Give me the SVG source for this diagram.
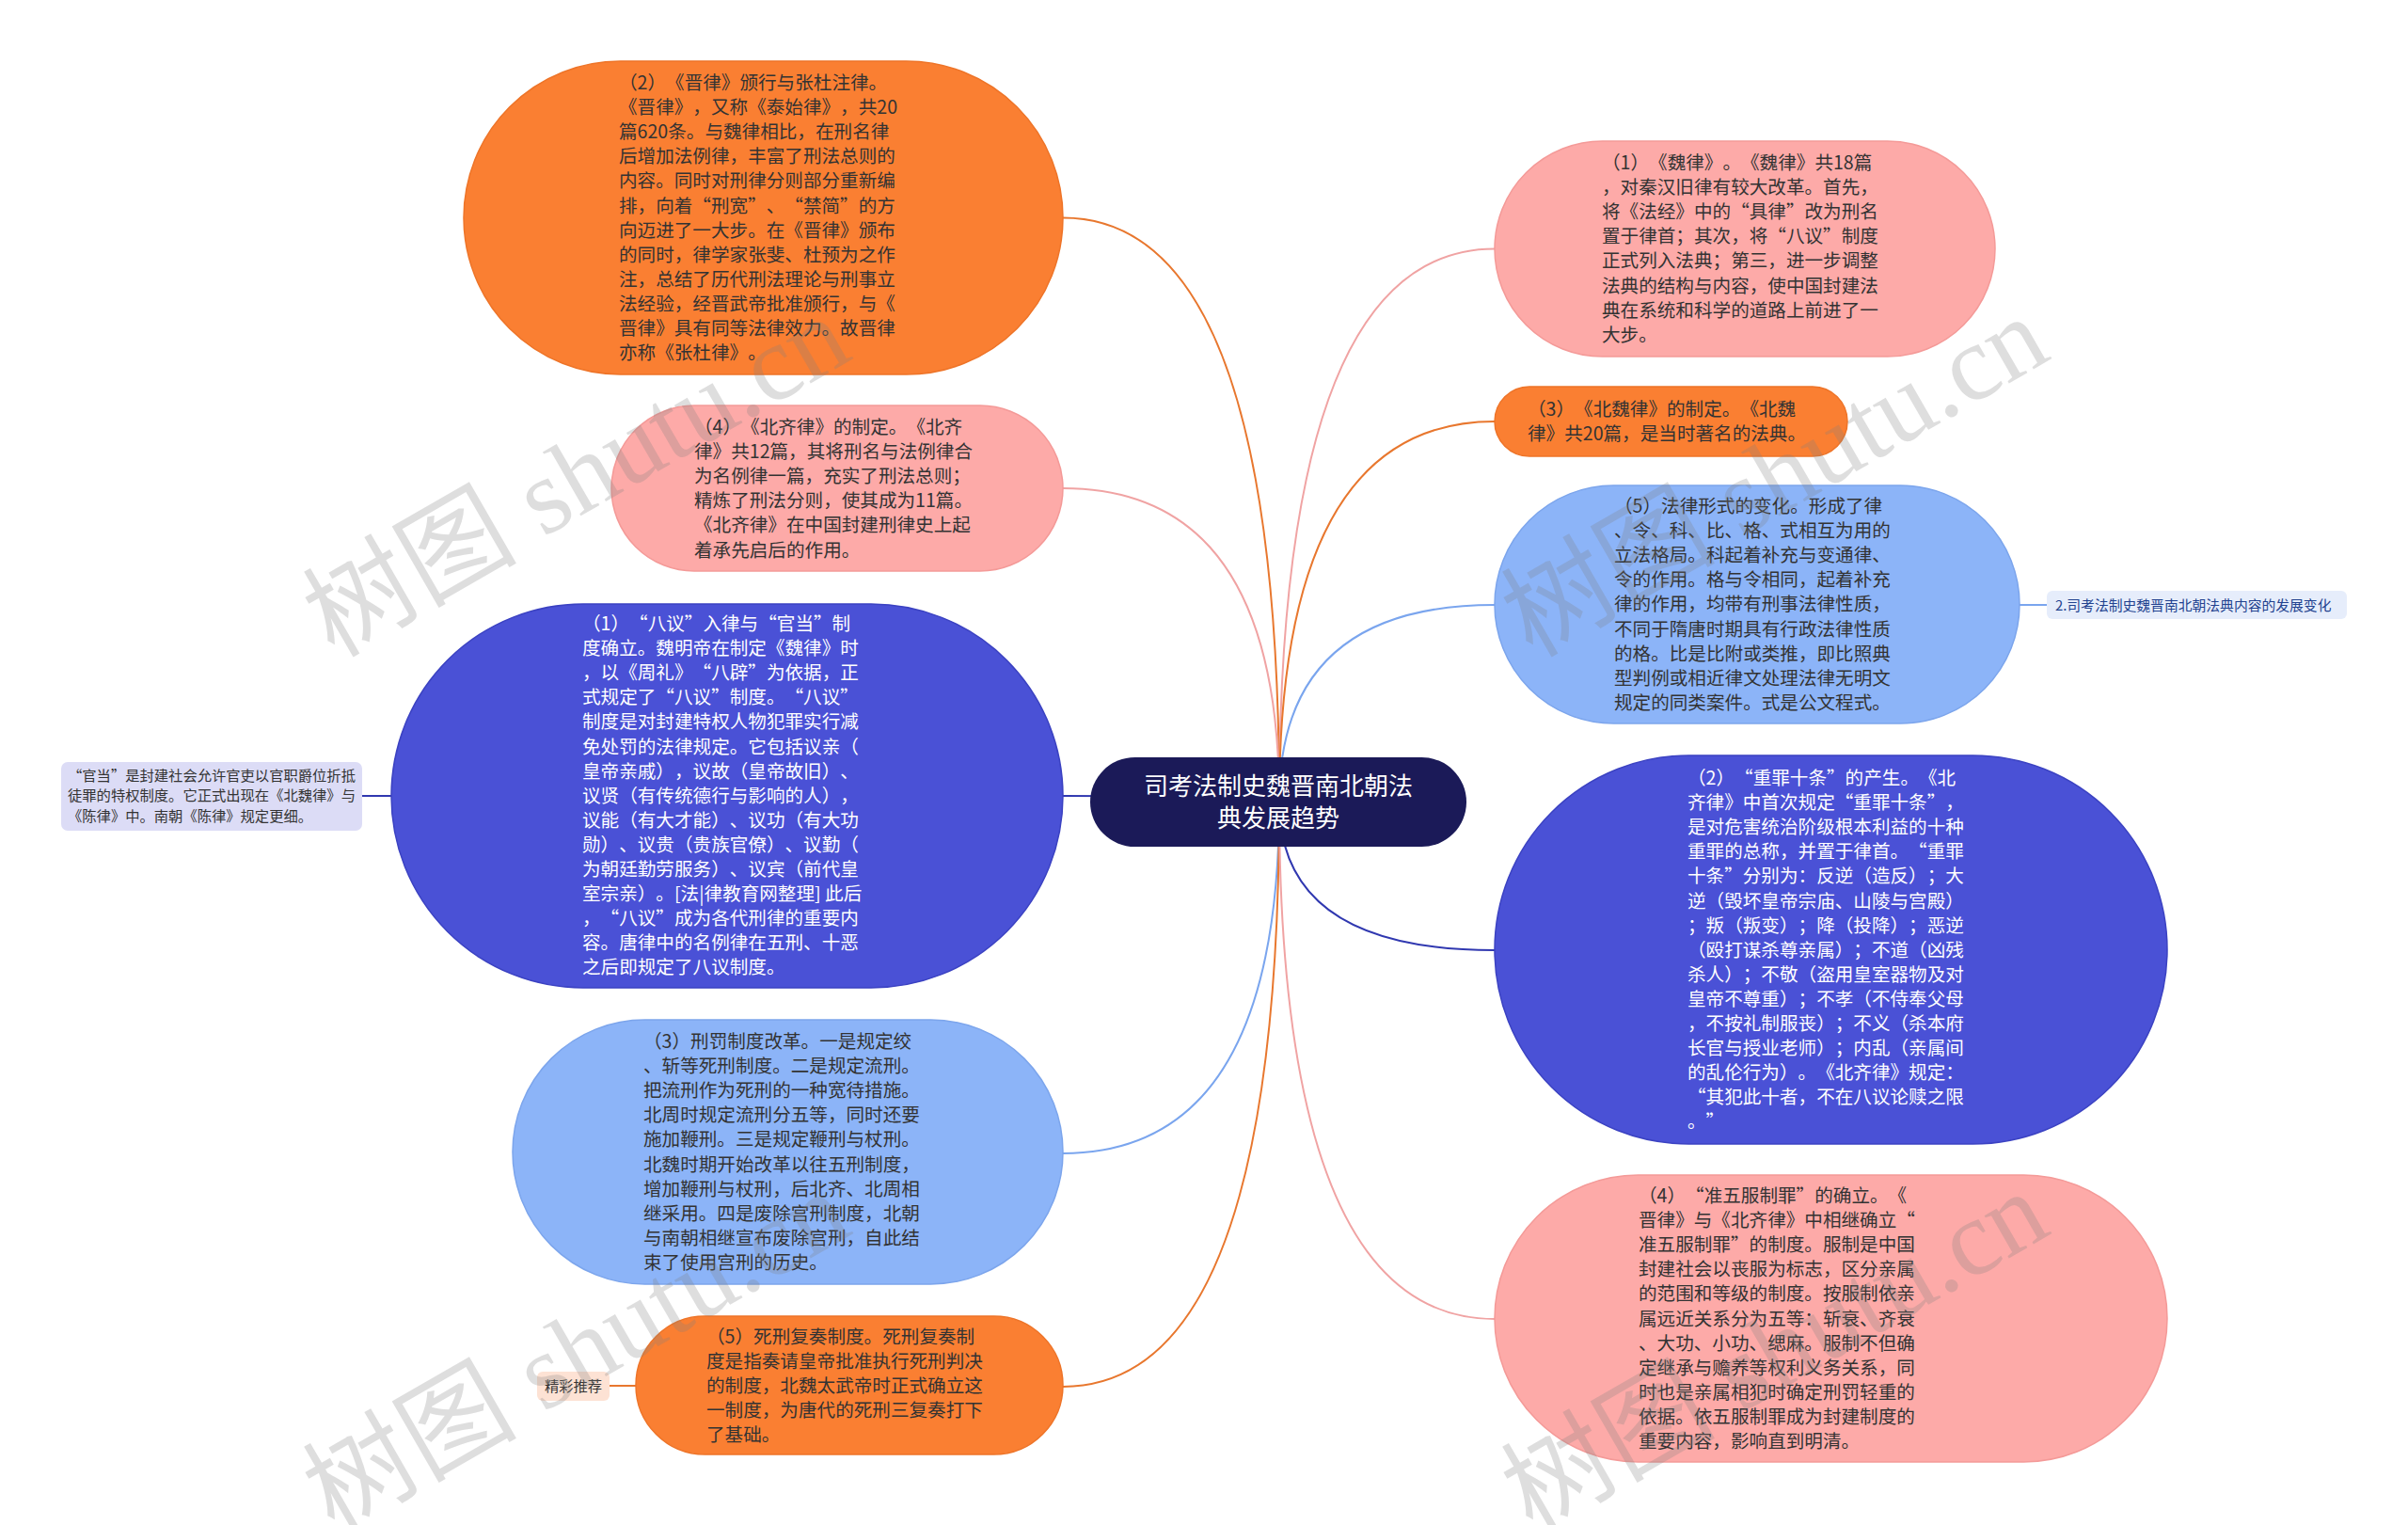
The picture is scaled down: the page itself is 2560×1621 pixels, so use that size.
<svg xmlns="http://www.w3.org/2000/svg" width="2560" height="1621" viewBox="0 0 2560 1621">
<style>
text{text-spacing-trim:space-all;}
.t{font-family:"Noto Sans CJK SC","Liberation Sans",sans-serif;font-size:19.6px;}
.s{font-family:"Noto Sans CJK SC","Liberation Sans",sans-serif;font-size:15.3px;}
.dk{fill:#333333}
.wh{fill:#ffffff}
.or{fill:#fa7f32;stroke:#ee7428;stroke-width:1.5}
.pk{fill:#fdaaa8;stroke:#f49a98;stroke-width:1.5}
.bl{fill:#4a51d6;stroke:#3b42c2;stroke-width:1.5}
.lb{fill:#8cb4f8;stroke:#7ca5ec;stroke-width:1.5}
.c{fill:none;stroke-width:2}
.co{stroke:#e8772e}
.cp{stroke:#f0a3a3}
.cb{stroke:#3038b0}
.cl{stroke:#7aa5ee}
.wm{font-family:"Liberation Serif","Noto Sans CJK SC",serif;font-size:114px;fill:#808080;fill-opacity:0.26}
</style>
<rect width="2560" height="1621" fill="#ffffff"/>
<g id="connectors">
<path class="c co" d="M1360 852 Q1360 231.5 1130 231.5"/>
<path class="c cp" d="M1360 852 Q1360 519 1130 519"/>
<path class="c cb" d="M1360 852 Q1360 846 1130 846"/>
<path class="c cl" d="M1360 852 Q1360 1226 1130 1226"/>
<path class="c co" d="M1360 852 Q1360 1474 1130 1474"/>
<path class="c cp" d="M1360 852 Q1360 264.5 1589 264.5"/>
<path class="c co" d="M1360 852 Q1360 448 1589 448"/>
<path class="c cl" d="M1360 852 Q1360 643 1589 643"/>
<path class="c cb" d="M1360 852 Q1360 1010 1589 1010"/>
<path class="c cp" d="M1360 852 Q1360 1402 1589 1402"/>
<path class="c cb" d="M416 846 L385 846"/>
<path class="c co" d="M676 1473 L648 1473"/>
<path class="c cl" d="M2147 643 L2176 643"/>
</g>
<g id="node-left-2">
<rect class="or" x="493" y="65" width="637" height="333" rx="166.5"/>
<text class="t dk" x="658" y="95"><tspan x="658">（2）《晋律》颁行与张杜注律。</tspan><tspan x="658" dy="26.1">《晋律》，又称《泰始律》，共20</tspan><tspan x="658" dy="26.1">篇620条。与魏律相比，在刑名律</tspan><tspan x="658" dy="26.1">后增加法例律，丰富了刑法总则的</tspan><tspan x="658" dy="26.1">内容。同时对刑律分则部分重新编</tspan><tspan x="658" dy="26.1">排，向着“刑宽”、“禁简”的方</tspan><tspan x="658" dy="26.1">向迈进了一大步。在《晋律》颁布</tspan><tspan x="658" dy="26.1">的同时，律学家张斐、杜预为之作</tspan><tspan x="658" dy="26.1">注，总结了历代刑法理论与刑事立</tspan><tspan x="658" dy="26.1">法经验，经晋武帝批准颁行，与《</tspan><tspan x="658" dy="26.1">晋律》具有同等法律效力。故晋律</tspan><tspan x="658" dy="26.1">亦称《张杜律》。</tspan></text>
</g>
<g id="node-left-4">
<rect class="pk" x="650" y="431" width="480" height="176" rx="88"/>
<text class="t dk" x="738" y="461"><tspan x="738">（4）《北齐律》的制定。《北齐</tspan><tspan x="738" dy="26.1">律》共12篇，其将刑名与法例律合</tspan><tspan x="738" dy="26.1">为名例律一篇，充实了刑法总则；</tspan><tspan x="738" dy="26.1">精炼了刑法分则，使其成为11篇。</tspan><tspan x="738" dy="26.1">《北齐律》在中国封建刑律史上起</tspan><tspan x="738" dy="26.1">着承先启后的作用。</tspan></text>
</g>
<g id="node-left-1">
<rect class="bl" x="416" y="642" width="714" height="408" rx="204"/>
<text class="t wh" x="619" y="670"><tspan x="619">（1）“八议”入律与“官当”制</tspan><tspan x="619" dy="26.1">度确立。魏明帝在制定《魏律》时</tspan><tspan x="619" dy="26.1">，以《周礼》“八辟”为依据，正</tspan><tspan x="619" dy="26.1">式规定了“八议”制度。“八议”</tspan><tspan x="619" dy="26.1">制度是对封建特权人物犯罪实行减</tspan><tspan x="619" dy="26.1">免处罚的法律规定。它包括议亲（</tspan><tspan x="619" dy="26.1">皇帝亲戚），议故（皇帝故旧）、</tspan><tspan x="619" dy="26.1">议贤（有传统德行与影响的人），</tspan><tspan x="619" dy="26.1">议能（有大才能）、议功（有大功</tspan><tspan x="619" dy="26.1">勋）、议贵（贵族官僚）、议勤（</tspan><tspan x="619" dy="26.1">为朝廷勤劳服务）、议宾（前代皇</tspan><tspan x="619" dy="26.1">室宗亲）。[法|律教育网整理] 此后</tspan><tspan x="619" dy="26.1">，“八议”成为各代刑律的重要内</tspan><tspan x="619" dy="26.1">容。唐律中的名例律在五刑、十恶</tspan><tspan x="619" dy="26.1">之后即规定了八议制度。</tspan></text>
</g>
<g id="label-guandang">
<rect x="65" y="810" width="320" height="73" rx="7" fill="#dcdcf6"/>
<text class="s dk" x="72" y="829.5"><tspan x="72">“官当”是封建社会允许官吏以官职爵位折抵</tspan><tspan x="72" dy="21.6">徒罪的特权制度。它正式出现在《北魏律》与</tspan><tspan x="72" dy="21.6">《陈律》中。南朝《陈律》规定更细。</tspan></text>
</g>
<g id="node-left-3">
<rect class="lb" x="545" y="1084" width="585" height="281" rx="140.5"/>
<text class="t dk" x="684" y="1114"><tspan x="684">（3）刑罚制度改革。一是规定绞</tspan><tspan x="684" dy="26.1">、斩等死刑制度。二是规定流刑。</tspan><tspan x="684" dy="26.1">把流刑作为死刑的一种宽待措施。</tspan><tspan x="684" dy="26.1">北周时规定流刑分五等，同时还要</tspan><tspan x="684" dy="26.1">施加鞭刑。三是规定鞭刑与杖刑。</tspan><tspan x="684" dy="26.1">北魏时期开始改革以往五刑制度，</tspan><tspan x="684" dy="26.1">增加鞭刑与杖刑，后北齐、北周相</tspan><tspan x="684" dy="26.1">继采用。四是废除宫刑制度，北朝</tspan><tspan x="684" dy="26.1">与南朝相继宣布废除宫刑，自此结</tspan><tspan x="684" dy="26.1">束了使用宫刑的历史。</tspan></text>
</g>
<g id="node-left-5">
<rect class="or" x="676" y="1399" width="454" height="147" rx="73.5"/>
<text class="t dk" x="751" y="1427.5"><tspan x="751">（5）死刑复奏制度。死刑复奏制</tspan><tspan x="751" dy="26.1">度是指奏请皇帝批准执行死刑判决</tspan><tspan x="751" dy="26.1">的制度，北魏太武帝时正式确立这</tspan><tspan x="751" dy="26.1">一制度，为唐代的死刑三复奏打下</tspan><tspan x="751" dy="26.1">了基础。</tspan></text>
</g>
<g id="label-jingcai">
<rect x="571" y="1458" width="77" height="31" rx="6" fill="#fde2d4"/>
<text class="s dk" x="609.5" y="1479" text-anchor="middle">精彩推荐</text>
</g>
<g id="node-center">
<rect x="1159" y="805" width="400" height="95" rx="47.5" fill="#1b1a58"/>
<text x="1359" y="845" text-anchor="middle" style="font-family:'Noto Sans CJK SC','Liberation Sans',sans-serif;font-size:26px;fill:#ffffff"><tspan x="1359">司考法制史魏晋南北朝法</tspan><tspan x="1359" dy="34">典发展趋势</tspan></text>
</g>
<g id="node-right-1">
<rect class="pk" x="1589" y="150" width="532" height="229" rx="114.5"/>
<text class="t dk" x="1703" y="180"><tspan x="1703">（1）《魏律》。《魏律》共18篇</tspan><tspan x="1703" dy="26.1">，对秦汉旧律有较大改革。首先，</tspan><tspan x="1703" dy="26.1">将《法经》中的“具律”改为刑名</tspan><tspan x="1703" dy="26.1">置于律首；其次，将“八议”制度</tspan><tspan x="1703" dy="26.1">正式列入法典；第三，进一步调整</tspan><tspan x="1703" dy="26.1">法典的结构与内容，使中国封建法</tspan><tspan x="1703" dy="26.1">典在系统和科学的道路上前进了一</tspan><tspan x="1703" dy="26.1">大步。</tspan></text>
</g>
<g id="node-right-3">
<rect class="or" x="1589" y="411" width="375" height="74" rx="37"/>
<text class="t dk" x="1624" y="442"><tspan x="1624">（3）《北魏律》的制定。《北魏</tspan><tspan x="1624" dy="26.1">律》共20篇，是当时著名的法典。</tspan></text>
</g>
<g id="node-right-5">
<rect class="lb" x="1589" y="516" width="558" height="253" rx="126.5"/>
<text class="t dk" x="1716" y="545"><tspan x="1716">（5）法律形式的变化。形成了律</tspan><tspan x="1716" dy="26.1">、令、科、比、格、式相互为用的</tspan><tspan x="1716" dy="26.1">立法格局。科起着补充与变通律、</tspan><tspan x="1716" dy="26.1">令的作用。格与令相同，起着补充</tspan><tspan x="1716" dy="26.1">律的作用，均带有刑事法律性质，</tspan><tspan x="1716" dy="26.1">不同于隋唐时期具有行政法律性质</tspan><tspan x="1716" dy="26.1">的格。比是比附或类推，即比照典</tspan><tspan x="1716" dy="26.1">型判例或相近律文处理法律无明文</tspan><tspan x="1716" dy="26.1">规定的同类案件。式是公文程式。</tspan></text>
</g>
<g id="label-right">
<rect x="2176" y="628" width="319" height="30" rx="6" fill="#e6edfb"/>
<text x="2185" y="648.5" style="font-family:'Noto Sans CJK SC','Liberation Sans',sans-serif;font-size:14.8px;fill:#22428f">2.司考法制史魏晋南北朝法典内容的发展变化</text>
</g>
<g id="node-right-2">
<rect class="bl" x="1589" y="803" width="715" height="413" rx="206.5"/>
<text class="t wh" x="1794" y="834"><tspan x="1794">（2）“重罪十条”的产生。《北</tspan><tspan x="1794" dy="26.1">齐律》中首次规定“重罪十条”，</tspan><tspan x="1794" dy="26.1">是对危害统治阶级根本利益的十种</tspan><tspan x="1794" dy="26.1">重罪的总称，并置于律首。“重罪</tspan><tspan x="1794" dy="26.1">十条”分别为：反逆（造反）；大</tspan><tspan x="1794" dy="26.1">逆（毁坏皇帝宗庙、山陵与宫殿）</tspan><tspan x="1794" dy="26.1">；叛（叛变）；降（投降）；恶逆</tspan><tspan x="1794" dy="26.1">（殴打谋杀尊亲属）；不道（凶残</tspan><tspan x="1794" dy="26.1">杀人）；不敬（盗用皇室器物及对</tspan><tspan x="1794" dy="26.1">皇帝不尊重）；不孝（不侍奉父母</tspan><tspan x="1794" dy="26.1">，不按礼制服丧）；不义（杀本府</tspan><tspan x="1794" dy="26.1">长官与授业老师）；内乱（亲属间</tspan><tspan x="1794" dy="26.1">的乱伦行为）。《北齐律》规定：</tspan><tspan x="1794" dy="26.1">“其犯此十者，不在八议论赎之限</tspan><tspan x="1794" dy="26.1">。”</tspan></text>
</g>
<g id="node-right-4">
<rect class="pk" x="1589" y="1249" width="715" height="305" rx="152.5"/>
<text class="t dk" x="1742" y="1278"><tspan x="1742">（4）“准五服制罪”的确立。《</tspan><tspan x="1742" dy="26.1">晋律》与《北齐律》中相继确立“</tspan><tspan x="1742" dy="26.1">准五服制罪”的制度。服制是中国</tspan><tspan x="1742" dy="26.1">封建社会以丧服为标志，区分亲属</tspan><tspan x="1742" dy="26.1">的范围和等级的制度。按服制依亲</tspan><tspan x="1742" dy="26.1">属远近关系分为五等：斩衰、齐衰</tspan><tspan x="1742" dy="26.1">、大功、小功、缌麻。服制不但确</tspan><tspan x="1742" dy="26.1">定继承与赡养等权利义务关系，同</tspan><tspan x="1742" dy="26.1">时也是亲属相犯时确定刑罚轻重的</tspan><tspan x="1742" dy="26.1">依据。依五服制罪成为封建制度的</tspan><tspan x="1742" dy="26.1">重要内容，影响直到明清。</tspan></text>
</g>
<g id="watermark">
<text class="wm" transform="translate(355 700) rotate(-30)">树图 shutu.cn</text>
<text class="wm" transform="translate(1629 700) rotate(-30)">树图 shutu.cn</text>
<text class="wm" transform="translate(355 1630) rotate(-30)">树图 shutu.cn</text>
<text class="wm" transform="translate(1629 1630) rotate(-30)">树图 shutu.cn</text>
</g>
</svg>
